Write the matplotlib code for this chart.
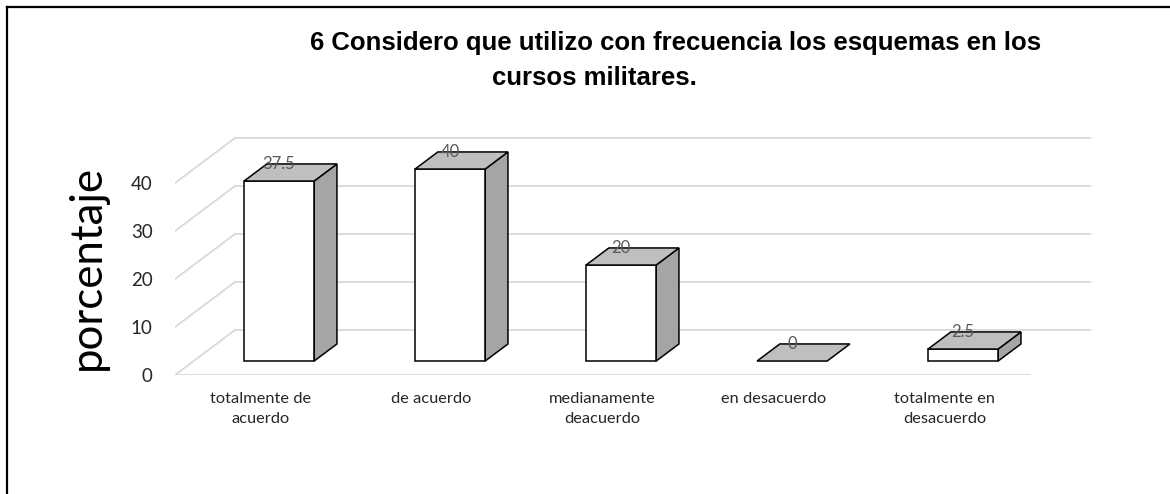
import matplotlib
matplotlib.use("Agg")
import matplotlib.pyplot as plt
from matplotlib.patches import Polygon
from matplotlib.lines import Line2D

categories = ["totalmente de\nacuerdo", "de acuerdo", "medianamente\ndeacuerdo",
              "en desacuerdo", "totalmente en\ndesacuerdo"]
values = [37.5, 40, 20, 0, 2.5]
value_labels = ["37.5", "40", "20", "0", "2.5"]
yticks = [0, 10, 20, 30, 40]
title_line1 = "6 Considero que utilizo con frecuencia los esquemas en los"
title_line2 = "cursos militares."
ylabel = "porcentaje"

W, H = 1170, 494
fig = plt.figure(figsize=(W / 100, H / 100), dpi=100)
fig.patch.set_facecolor("white")

# axes region (pixels)
ax_left, ax_right, ax_bottom, ax_top = 175, 1095, 375, 130
ax = fig.add_axes([ax_left / W, (H - ax_bottom) / H, (ax_right - ax_left) / W,
                   (ax_bottom - ax_top) / H])
px_per_cat = 171.0
px_per_val = 4.8
xmin = -0.5
xmax = xmin + (ax_right - ax_left) / px_per_cat
ymax = (ax_bottom - ax_top) / px_per_val
ax.set_xlim(xmin, xmax)
ax.set_ylim(0, ymax)

# depth offsets in data units
DX = 60 / px_per_cat
DY = 45 / px_per_val
n = len(categories)
grid_c = "#d9d9d9"

# gridlines: side diagonals and back wall
for v in yticks:
    ax.plot([xmin, xmin + DX], [v, v + DY], color=grid_c, lw=1.3, zorder=1)
    ax.plot([xmin + DX, n - 0.5 + DX], [v + DY, v + DY], color=grid_c, lw=1.3, zorder=1)
# floor front edge
ax.plot([xmin, n - 0.5], [0, 0], color=grid_c, lw=1.3, zorder=1)

# bars
bw = 0.41
d0, d1 = 0.31, 0.69
for i, v in enumerate(values):
    fx0 = i - bw / 2 + d0 * DX
    fx1 = i + bw / 2 + d0 * DX
    fy0 = d0 * DY
    fy1 = v + d0 * DY
    ddx = (d1 - d0) * DX
    ddy = (d1 - d0) * DY
    z = 3 + i * 0.01
    if v > 0:
        front = Polygon([(fx0, fy0), (fx1, fy0), (fx1, fy1), (fx0, fy1)], closed=True,
                        facecolor="white", edgecolor="black", lw=1.1, zorder=z,
                        joinstyle="miter")
        side = Polygon([(fx1, fy0), (fx1 + ddx, fy0 + ddy), (fx1 + ddx, fy1 + ddy), (fx1, fy1)],
                       closed=True, facecolor="#a5a5a5", edgecolor="black", lw=1.1, zorder=z,
                       joinstyle="miter")
        ax.add_patch(side)
        ax.add_patch(front)
    top = Polygon([(fx0, fy1), (fx1, fy1), (fx1 + ddx, fy1 + ddy), (fx0 + ddx, fy1 + ddy)],
                  closed=True, facecolor="#bfbfbf", edgecolor="black", lw=1.1, zorder=z,
                  joinstyle="miter")
    ax.add_patch(top)
    ax.text(i + d0 * DX, fy1 + ddy, value_labels[i], ha="center", va="center",
            fontsize=12, color="#595959", family="Lato", zorder=10)

for s in ax.spines.values():
    s.set_visible(False)
ax.set_facecolor("none")
ax.set_yticks(yticks)
ax.set_yticklabels([str(t) for t in yticks], fontsize=13.5, color="#262626", family="Lato")
ax.set_xticks(range(n))
ax.set_xticklabels(categories, fontsize=11.8, color="#262626", family="Lato",
                   linespacing=1.55)
ax.tick_params(axis="y", length=0, pad=16)
ax.tick_params(axis="x", length=0, pad=12)
ax.set_ylabel(ylabel, fontsize=31.5, family="Lato", color="black")
ax.yaxis.label.set_verticalalignment("center")
ax.yaxis.set_label_coords((87 - ax_left) / (ax_right - ax_left),
                          (ax_bottom - 268) / (ax_bottom - ax_top))

# title
fig.text(676 / W, 1 - 43 / H, title_line1, ha="center", va="center", fontsize=18.5,
         fontweight="bold", family="Liberation Sans")
fig.text(594 / W, 1 - 78 / H, title_line2, ha="center", va="center", fontsize=18.5,
         fontweight="bold", family="Liberation Sans")

# frame
fig.add_artist(Line2D([7 / W, 7 / W], [0, 1 - 7 / H], color="black", lw=1.6,
                      transform=fig.transFigure))
fig.add_artist(Line2D([7 / W, 1], [1 - 7 / H, 1 - 7 / H], color="black", lw=1.6,
                      transform=fig.transFigure))

fig.savefig("out.png", dpi=100)
